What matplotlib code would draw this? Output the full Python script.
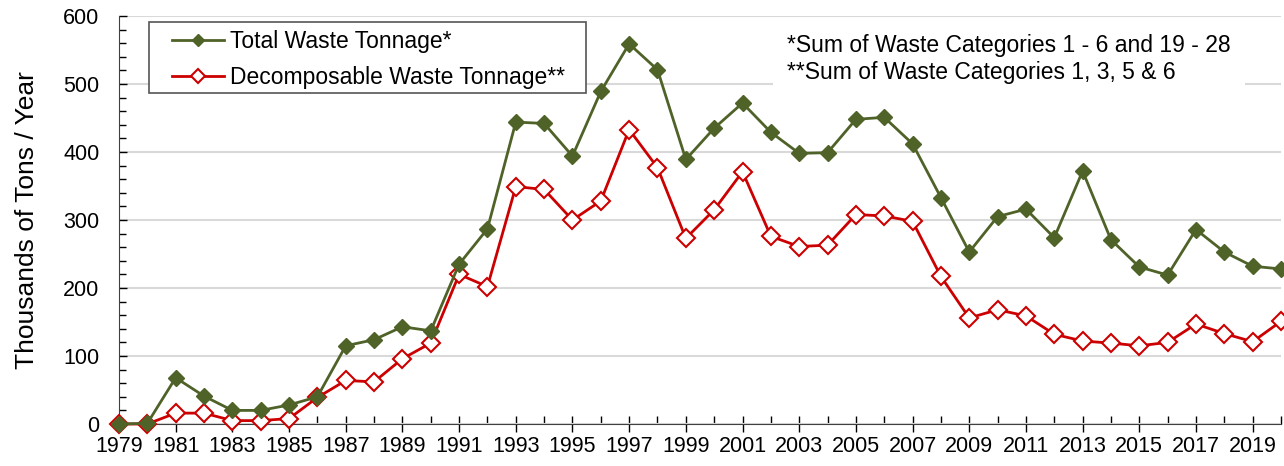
import matplotlib
matplotlib.use("Agg")
import matplotlib.pyplot as plt
from matplotlib.patches import Rectangle
from matplotlib.ticker import MultipleLocator, FixedLocator

plt.rcParams['font.family'] = ['Liberation Sans', 'DejaVu Sans']

years = list(range(1979, 2021))

total_waste = [0, 1, 68, 41, 20, 20, 28, 40, 115, 124, 143, 137, 235, 287,
               444, 442, 394, 489, 559, 521, 389, 435, 472, 429, 398, 399, 448, 451,
               412, 333, 253, 305, 316, 274, 372, 271, 231, 219, 286, 253, 232, 228]

decomposable_waste = [0, 0, 16, 16, 5, 5, 8, 39, 64, 62, 96, 119, 220, 202,
                      349, 345, 300, 328, 433, 377, 273, 315, 371, 276, 261, 263, 308, 306,
                      298, 217, 156, 168, 159, 132, 122, 119, 115, 120, 147, 133, 121, 151]

green = "#4F6228"
red = "#CC0000"

W, H = 1284, 466
fig = plt.figure(figsize=(W / 100, H / 100), dpi=100)
ax = fig.add_axes([119 / W, 1 - 424 / H, (1281 - 119) / W, (424 - 16) / H])

# red drawn first so the green diamonds sit on top where they overlap
ax.plot(years, decomposable_waste, color=red, linewidth=2, marker="D", markersize=9,
        markerfacecolor="white", markeredgecolor=red, markeredgewidth=1.5,
        label="Decomposable Waste Tonnage**", clip_on=False, zorder=3)
ax.plot(years, total_waste, color=green, linewidth=2, marker="D", markersize=8.5,
        markerfacecolor=green, markeredgecolor=green, label="Total Waste Tonnage*",
        clip_on=False, zorder=4)

ax.set_xlim(1979, 2020)
ax.set_ylim(0, 600)
ax.xaxis.set_major_locator(FixedLocator(list(range(1979, 2021, 2))))
ax.xaxis.set_minor_locator(FixedLocator(list(range(1980, 2021, 2))))
ax.yaxis.set_major_locator(MultipleLocator(100))
ax.yaxis.set_minor_locator(MultipleLocator(20))
ax.tick_params(axis="x", which="major", direction="inout", length=12, width=1, labelsize=15.5, pad=3)
ax.tick_params(axis="x", which="minor", direction="in", length=6, width=1)
ax.tick_params(axis="y", which="major", direction="in", length=6, width=1, labelsize=15.5, pad=14)
ax.tick_params(axis="y", which="minor", direction="in", length=5, width=1)

ax.grid(axis="y", which="major", color="#D9D9D9", linewidth=1.5, zorder=0)
ax.set_axisbelow(True)
for side in ["top", "right"]:
    ax.spines[side].set_visible(False)
for side in ["left", "bottom"]:
    ax.spines[side].set_color("#404040")

ax.set_ylabel("Thousands of Tons / Year", fontsize=19)
ax.yaxis.set_label_coords((39 - 119) / 1162, 0.5)

# legend box
fig.add_artist(Rectangle((149 / W, 1 - 93 / H), (586 - 149) / W, (93 - 22) / H,
                         transform=fig.transFigure, facecolor="white",
                         edgecolor="#555555", linewidth=1.2, zorder=4.5))
handles, labels = ax.get_legend_handles_labels()
fig.legend(handles[::-1], labels[::-1], loc="upper left", bbox_to_anchor=(172 / W, 1 - 30 / H),
           bbox_transform=fig.transFigure, borderaxespad=0, borderpad=0, frameon=False,
           fontsize=16.5, handlelength=2.27, handletextpad=0.26, labelspacing=0.55,
           markerscale=0.75)

note = fig.text(787 / W, 1 - 59 / H,
                "*Sum of Waste Categories 1 - 6 and 19 - 28\n**Sum of Waste Categories 1, 3, 5 & 6",
                fontsize=16.5, va="center", ha="left", linespacing=1.2)
note.set_bbox(dict(facecolor="white", edgecolor="none", pad=10))

fig.savefig("out.png", dpi=100)
